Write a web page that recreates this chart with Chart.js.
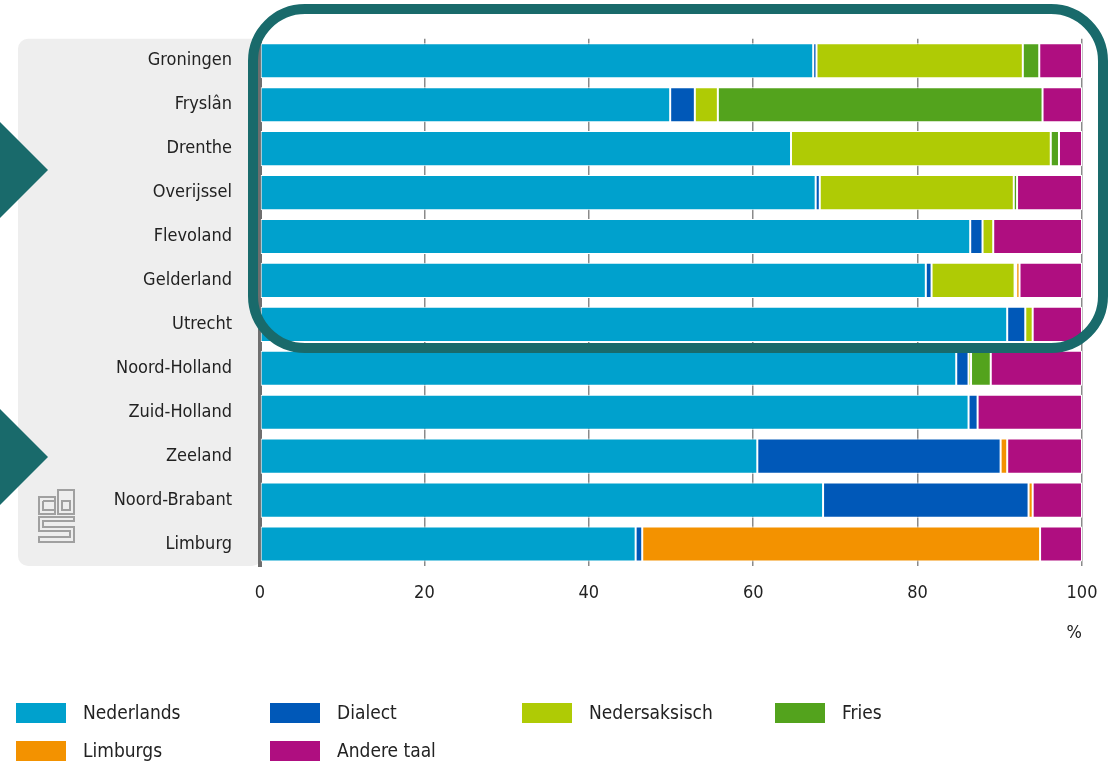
<!DOCTYPE html>
<html>
<head>
<meta charset="utf-8">
<script src="https://cdn.jsdelivr.net/npm/chart.js@4.4.1/dist/chart.umd.min.js"></script>
<style>
  body { margin: 0; background: #fff; }
  #wrap { position: relative; width: 1110px; height: 765px; overflow: hidden; }
  .lg { position: absolute; font-family: 'DejaVu Sans Condensed', 'DejaVu Sans', sans-serif; font-size: 19px; color: #222; }
  .lg span.box { position: absolute; left: 0; top: 0; width: 50px; height: 20px; }
  .lg span.txt { position: absolute; left: 67px; top: -2px; white-space: nowrap; }
</style>
</head>
<body>
<div id="wrap">
  <canvas id="chart" width="1110" height="765"></canvas>
</div>
<script>
// provincies en aandeel thuistaal (%)
const provinces = ['Groningen', 'Fryslân', 'Drenthe', 'Overijssel', 'Flevoland', 'Gelderland',
  'Utrecht', 'Noord-Holland', 'Zuid-Holland', 'Zeeland', 'Noord-Brabant', 'Limburg'];

const nederlands    = [67.3, 49.9, 64.6, 67.6, 86.4, 81.0, 90.9, 84.7, 86.2, 60.5, 68.5, 45.7];
const dialect       = [0.4, 3.0, 0, 0.5, 1.5, 0.7, 2.2, 1.5, 1.1, 29.6, 25.0, 0.8];
const nedersaksisch = [25.1, 2.8, 31.6, 23.6, 1.3, 10.1, 0.9, 0.3, 0, 0, 0, 0];
const fries         = [2.0, 39.5, 1.0, 0.4, 0, 0.2, 0, 2.4, 0, 0, 0, 0];
const limburgs      = [0, 0, 0, 0, 0, 0.4, 0, 0, 0, 0.8, 0.5, 48.4];
const andereTaal    = [5.2, 4.8, 2.8, 7.9, 10.8, 7.6, 6.0, 11.1, 12.7, 9.1, 6.0, 5.1];

const seriesNames  = ['Nederlands', 'Dialect', 'Nedersaksisch', 'Fries', 'Limburgs', 'Andere taal'];
const seriesData   = [nederlands, dialect, nedersaksisch, fries, limburgs, andereTaal];
const seriesColors = ['#00a1cd', '#0058b8', '#afcb05', '#53a31d', '#f39200', '#af0e80'];

const xTicks = [0, 20, 40, 60, 80, 100];

const FONT = "'DejaVu Sans Condensed', 'DejaVu Sans', sans-serif";
const TEAL = '#196a6b';

function roundRect(ctx, x, y, w, h, r) {
  ctx.beginPath();
  ctx.moveTo(x + r, y);
  ctx.lineTo(x + w - r, y);
  ctx.arcTo(x + w, y, x + w, y + r, r);
  ctx.lineTo(x + w, y + h - r);
  ctx.arcTo(x + w, y + h, x + w - r, y + h, r);
  ctx.lineTo(x + r, y + h);
  ctx.arcTo(x, y + h, x, y + h - r, r);
  ctx.lineTo(x, y + r);
  ctx.arcTo(x, y, x + r, y, r);
  ctx.closePath();
}

// grijs vlak achter de provincienamen
const panelPlugin = {
  id: 'panel',
  beforeDraw(chart) {
    const ctx = chart.ctx;
    const a = chart.chartArea;
    ctx.save();
    ctx.fillStyle = '#eeeeee';
    roundRect(ctx, 18, a.top, a.left - 18 + 2, a.bottom - a.top, 10);
    ctx.fill();
    ctx.restore();
  }
};

// accenten: kader, pijlen en logo
const overlayPlugin = {
  id: 'overlay',
  afterDraw(chart) {
    const ctx = chart.ctx;
    ctx.save();
    ctx.strokeStyle = TEAL;
    ctx.lineWidth = 10;
    roundRect(ctx, 253, 9, 850, 339, 52);
    ctx.stroke();

    ctx.fillStyle = TEAL;
    ctx.beginPath();
    ctx.moveTo(0, 122); ctx.lineTo(48, 170); ctx.lineTo(0, 218);
    ctx.closePath(); ctx.fill();
    ctx.beginPath();
    ctx.moveTo(0, 409); ctx.lineTo(48, 457); ctx.lineTo(0, 505);
    ctx.closePath(); ctx.fill();

    // cbs logo (grof)
    ctx.strokeStyle = '#a0a0a0';
    ctx.lineWidth = 2;
    ctx.beginPath();
    ctx.rect(39, 497, 16, 17);
    ctx.moveTo(43, 501); ctx.lineTo(55, 501); ctx.moveTo(43, 501); ctx.lineTo(43, 510); ctx.lineTo(55, 510);
    ctx.rect(58, 490, 16, 24);
    ctx.rect(62, 501, 8, 9);
    ctx.moveTo(74, 517); ctx.lineTo(39, 517); ctx.lineTo(39, 531); ctx.lineTo(70, 531);
    ctx.lineTo(70, 537); ctx.lineTo(39, 537); ctx.lineTo(39, 542); ctx.lineTo(74, 542);
    ctx.lineTo(74, 527); ctx.lineTo(43, 527); ctx.lineTo(43, 521); ctx.lineTo(74, 521); ctx.closePath();
    ctx.stroke();
    ctx.restore();
  }
};

const ctx = document.getElementById('chart').getContext('2d');
const chart = new Chart(ctx, {
  type: 'bar',
  data: {
    labels: provinces,
    datasets: seriesNames.map((name, i) => ({
      label: name,
      data: seriesData[i],
      backgroundColor: seriesColors[i],
      borderColor: '#ffffff',
      borderWidth: 1,
      borderSkipped: false,
      barPercentage: 0.8,
      categoryPercentage: 1.0
    }))
  },
  options: {
    indexAxis: 'y',
    responsive: false,
    animation: false,
    layout: { padding: { left: 18, right: 28, top: 38, bottom: 117 } },
    scales: {
      x: {
        stacked: true,
        min: 0,
        max: 100,
        afterBuildTicks: (scale) => { scale.ticks = xTicks.map(v => ({ value: v })); },
        afterFit: (scale) => {
          scale.height = 82;
          scale.paddingLeft = 0;
          scale.paddingRight = 0;
        },
        grid: { color: '#8a8a8a', lineWidth: 1.5, drawTicks: false },
        border: { display: false },
        ticks: { color: '#222', font: { family: FONT, size: 18 }, padding: 17 },
        title: { display: true, text: '%', align: 'end', color: '#222', font: { family: FONT, size: 18 }, padding: { top: 3 } }
      },
      y: {
        stacked: true,
        afterFit: (scale) => { scale.width = 242; },
        grid: { display: false, drawTicks: false },
        border: { display: true, color: '#6e6e6e', width: 4 },
        ticks: { color: '#222', font: { family: FONT, size: 18 }, padding: 28 }
      }
    },
    plugins: {
      legend: { display: false },
      tooltip: { enabled: false }
    }
  },
  plugins: [panelPlugin, overlayPlugin]
});

// legenda in vier kolommen
const legendX = [16, 270, 522, 775];
const legendY = [703, 741];
const wrap = document.getElementById('wrap');
seriesNames.forEach((name, i) => {
  const el = document.createElement('div');
  el.className = 'lg';
  el.style.left = legendX[i % 4] + 'px';
  el.style.top = legendY[Math.floor(i / 4)] + 'px';
  el.innerHTML = '<span class="box" style="background:' + seriesColors[i] + '"></span><span class="txt">' + name + '</span>';
  wrap.appendChild(el);
});
</script>
</body>
</html>
